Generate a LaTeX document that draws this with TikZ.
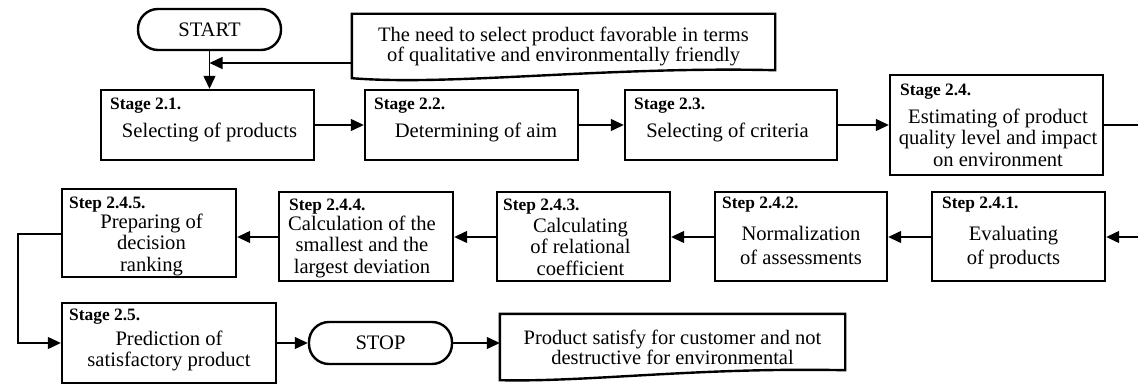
\documentclass[tikz,border=0pt]{standalone}
\usepackage{fontspec}
\setmainfont{Liberation Serif}
\usetikzlibrary{arrows.meta,calc}
\newcommand{\bodyfont}{\fontsize{20.6}{21.5}\selectfont}
\newcommand{\labfont}{\fontsize{17.4}{18}\selectfont\bfseries}
\tikzset{
  box/.style={draw, line width=2.4pt, inner sep=0pt},
  pill/.style={draw, line width=2.4pt, inner sep=0pt, rounded corners=20pt, font=\bodyfont},
  lab/.style={font=\labfont, inner sep=0pt, anchor=base west},
  body/.style={font=\bodyfont, align=center, inner sep=0pt, anchor=north},
  doctext/.style={font=\fontsize{20.5}{20}\selectfont, align=center, inner sep=0pt},
  docline/.style={line width=2.4pt, line join=miter},
  ln/.style={line width=1.3pt},
  arr/.style={line width=1.3pt, -{Triangle[length=13pt,width=12pt]}}
}
\begin{document}
\begin{tikzpicture}[x=1pt,y=-1pt]
\useasboundingbox (0,0) rectangle (1138,385);
% terminals
\node[pill, minimum width=143pt, minimum height=41pt] (start) at (209.5,29.5) {START};
\node[pill, minimum width=143pt, minimum height=42pt] (stop) at (380.5,343) {STOP};
% document shapes
\node[doctext, minimum width=423pt, minimum height=64pt] (need) at (563.5,46) {The need to select product favorable in terms\\of qualitative and environmentally friendly};
\draw[docline] (need.south west) -- (need.north west) -- (need.north east) -- ($(need.south east)+(0,-8)$)
  .. controls ($(need.south east)+(-170,-12)$) and ($(need.south west)+(100,8)$) .. (need.south west) -- cycle;
\node[doctext, minimum width=345pt, minimum height=66pt] (prod) at (672.5,347) {Product satisfy for customer and not\\destructive for environmental};
\draw[docline] (prod.south west) -- (prod.north west) -- (prod.north east) -- ($(prod.south east)+(0,-10)$)
  .. controls ($(prod.south east)+(-150,-13)$) and ($(prod.south west)+(90,2)$) .. (prod.south west) -- cycle;
% stage boxes row 1
\node[box, minimum width=213pt, minimum height=70pt] (s21) at (207.5,125) {};
\node[box, minimum width=213pt, minimum height=70pt] (s22) at (471.5,125) {};
\node[box, minimum width=212pt, minimum height=70pt] (s23) at (731,125) {};
\node[box, minimum width=213pt, minimum height=100pt] (s24) at (996.5,125) {};
% step boxes row 2
\node[box, minimum width=174pt, minimum height=88pt] (t245) at (149,233) {};
\node[box, minimum width=174pt, minimum height=89pt] (t244) at (366,236.5) {};
\node[box, minimum width=173pt, minimum height=89pt] (t243) at (583.5,236.5) {};
\node[box, minimum width=172pt, minimum height=89pt] (t242) at (801,236.5) {};
\node[box, minimum width=173pt, minimum height=89pt] (t241) at (1018.5,236.5) {};
% stage 2.5
\node[box, minimum width=214pt, minimum height=80pt] (s25) at (169,343) {};
% labels
\node[lab] (s21l) at (110,110) {Stage 2.1.};
\node[lab] (s22l) at (374,110) {Stage 2.2.};
\node[lab] (s23l) at (634,110) {Stage 2.3.};
\node[lab] (s24l) at (900,96) {Stage 2.4.};
\node[lab] (t245l) at (69,208) {Step 2.4.5.};
\node[lab] (t244l) at (289,210) {Step 2.4.4.};
\node[lab] (t243l) at (503,210) {Step 2.4.3.};
\node[lab] (t242l) at (722,208) {Step 2.4.2.};
\node[lab] (t241l) at (942,208) {Step 2.4.1.};
\node[lab] (s25l) at (69,320) {Stage 2.5.};
% body texts
\node[body] (s21b) at (209.5,122) {\strut Selecting of products};
\node[body] (s22b) at (476,122) {\strut Determining of aim};
\node[body] (s23b) at (727.5,122) {\strut Selecting of criteria};
\node[body] (s24b) at (998,108) {\strut Estimating of product\\quality level and impact\\on environment};
\node[body] (t245b) at (151.5,213) {\strut Preparing of\\decision\\ranking};
\node[body] (t244b) at (362,215) {\strut Calculation of the\\smallest and the\\largest deviation};
\node[body] (t243b) at (580.5,217) {\strut Calculating\\of relational\\coefficient};
\node[body, font=\fontsize{20.6}{24}\selectfont] (t242b) at (801,223) {\strut Normalization\\of assessments};
\node[body, font=\fontsize{20.6}{24}\selectfont] (t241b) at (1013.5,223) {\strut Evaluating\\of products};
\node[body] (s25b) at (169,330) {\strut Prediction of\\satisfactory product};
% edge coordinates
\coordinate (rtop) at (1138,125);
\coordinate (rbot) at (1138,237);
\coordinate (needin) at (352,63);
\coordinate (lcorner) at (18,234);
% connectors
\draw[arr] (start.south) -- (start.south |- s21.north);
\draw[arr] (needin) -- (needin -| start.south);
\draw[arr] (s21.east) -- (s22.west);
\draw[arr] (s22.east) -- (s23.west);
\draw[arr] (s23.east) -- (s24.west);
\draw[ln] (s24.east) -- (rtop);
\draw[arr] (rbot) -- (rbot -| t241.east);
\draw[arr] (t241.west |- rbot) -- (rbot -| t242.east);
\draw[arr] (t242.west |- rbot) -- (rbot -| t243.east);
\draw[arr] (t243.west |- rbot) -- (rbot -| t244.east);
\draw[arr] (t244.west |- rbot) -- (rbot -| t245.east);
\draw[arr] (lcorner -| t245.west) -- (lcorner) -- (lcorner |- s25.west) -- (s25.west);
\draw[arr] (s25.east) -- (stop.west);
\draw[arr] (stop.east) -- (stop.east -| prod.west);
\end{tikzpicture}
\end{document}
